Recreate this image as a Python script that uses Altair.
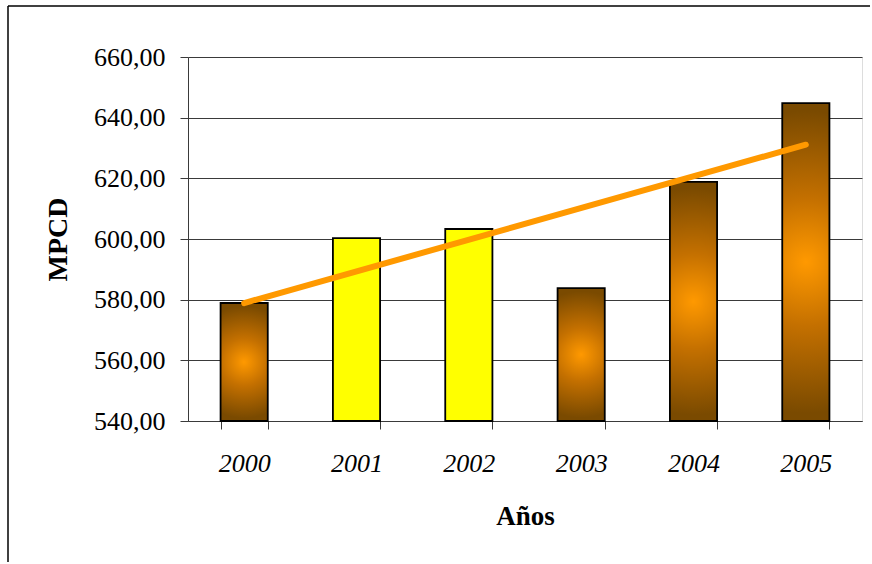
import altair as alt
import pandas as pd

# Annual production, MPCD
years = ["2000", "2001", "2002", "2003", "2004", "2005"]
mpcd = [578.9, 600.3, 603.3, 583.8, 618.8, 644.8]
fill_kind = ["gradient", "yellow", "yellow", "gradient", "gradient", "gradient"]

y_ticks = [540, 560, 580, 600, 620, 640, 660]
Y_MIN, Y_MAX = 540, 660

df = pd.DataFrame({
    "Year": years,
    "idx": list(range(len(years))),
    "MPCD": mpcd,
    "kind": fill_kind,
})

FONT = "Liberation Serif"
GRID = "#3a3a3a"

x_enc = alt.X(
    "Year:O",
    sort=years,
    scale=alt.Scale(paddingInner=0.58, paddingOuter=0.29),
    axis=alt.Axis(
        title="Años",
        labelAngle=0,
        tickBand="extent",
        tickSize=8,
        tickColor=GRID,
        domainColor=GRID,
        labelFont=FONT,
        labelFontSize=26,
        labelFontStyle="italic",
        labelColor="black",
        labelPadding=21,
        titleFont=FONT,
        titleFontSize=27,
        titleFontWeight="bold",
        titleColor="black",
        titlePadding=27,
        grid=False,
    ),
)

y_enc = alt.Y(
    "MPCD:Q",
    scale=alt.Scale(domain=[Y_MIN, Y_MAX], zero=False, nice=False),
    axis=alt.Axis(
        title="MPCD",
        values=y_ticks,
        labelExpr="replace(format(datum.value, '.2f'), '.', ',')",
        tickSize=8,
        tickColor=GRID,
        domainColor=GRID,
        gridColor=GRID,
        gridWidth=1,
        labelFont=FONT,
        labelFontSize=26,
        labelColor="black",
        labelPadding=15,
        titleFont=FONT,
        titleFontSize=28,
        titleFontWeight="bold",
        titleColor="black",
        titlePadding=21,
    ),
)

base = alt.Chart(df)

# Outer frame of the figure: top and left edges
one = alt.Data(values=[{"f": 1}])
frame_top = alt.Chart(one).mark_rule(color="black", strokeWidth=1.5).encode(
    x=alt.value(-180), x2=alt.value(682), y=alt.value(-51)
)
frame_left = alt.Chart(one).mark_rule(color="black", strokeWidth=1.5).encode(
    x=alt.value(-180), y=alt.value(-51), y2=alt.value(505)
)

orange_gradient = alt.Gradient(
    gradient="radial",
    x1=0.5, y1=0.5, r1=0,
    x2=0.5, y2=0.5, r2=0.5,
    stops=[
        alt.GradientStop(color="#ff9900", offset=0),
        alt.GradientStop(color="#c47000", offset=0.4),
        alt.GradientStop(color="#7a4a00", offset=0.95),
    ],
)

bars_grad = base.transform_filter("datum.kind == 'gradient'").mark_bar(
    color=orange_gradient, stroke="black", strokeWidth=1.8
).encode(x=x_enc, y=y_enc, y2=alt.datum(Y_MIN))

bars_yellow = base.transform_filter("datum.kind == 'yellow'").mark_bar(
    color="#ffff00", stroke="black", strokeWidth=1.8
).encode(x=x_enc, y=y_enc, y2=alt.datum(Y_MIN))

# Linear trend across the years
trend = base.transform_regression(
    "idx", "MPCD", method="linear"
).transform_calculate(
    Year="'' + (2000 + round(datum.idx))"
).mark_line(
    color="#ff9900", strokeWidth=6, strokeCap="round"
).encode(x=alt.X("Year:O", sort=years), y="MPCD:Q")

chart = alt.layer(frame_top, frame_left, bars_grad, bars_yellow, trend).properties(
    width=674,
    height=364,
    padding={"left": 7, "top": 5, "right": 0, "bottom": 0},
).configure_view(
    stroke="#808080", strokeWidth=1.5
).configure(background="white")

chart.save("out.html", embed_options={"renderer": "svg", "actions": False})
